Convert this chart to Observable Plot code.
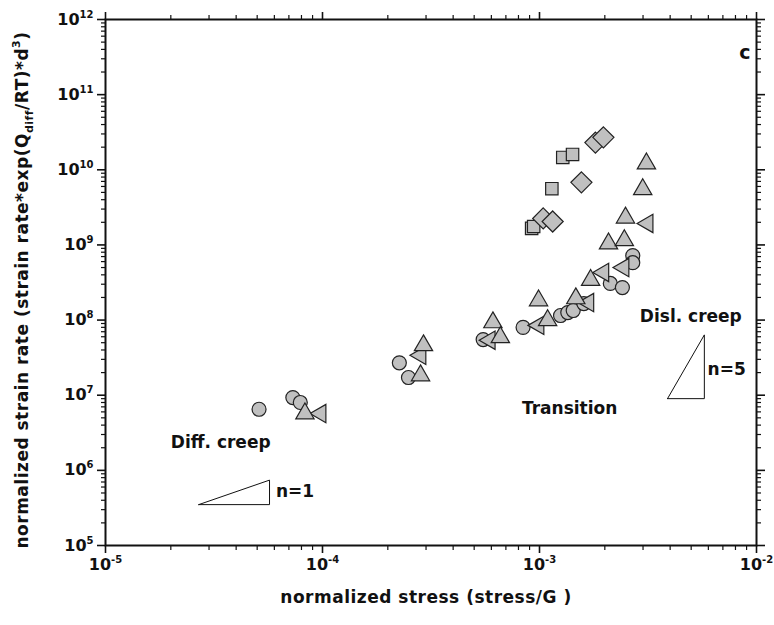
<!DOCTYPE html>
<html>
<head>
<meta charset="utf-8">
<script src="https://cdn.jsdelivr.net/npm/d3@7"></script>
<script src="https://cdn.jsdelivr.net/npm/@observablehq/plot@0.6"></script>
<style>
  body { margin: 0; background: #fff; }
  svg { display: block; }
</style>
</head>
<body>
<div id="chart"></div>
<script>
// Normalized stress (stress/G) vs normalized strain rate, one array per symbol
const circles = [
  [5.1e-5, 6.5e6], [7.3e-5, 9.3e6], [7.9e-5, 8.0e6], [2.26e-4, 2.7e7], [2.49e-4, 1.72e7],
  [5.5e-4, 5.5e7], [8.4e-4, 8.0e7], [1.25e-3, 1.15e8], [1.35e-3, 1.26e8], [1.43e-3, 1.34e8],
  [1.60e-3, 1.66e8], [2.12e-3, 3.07e8], [2.41e-3, 2.71e8], [2.69e-3, 7.2e8], [2.69e-3, 5.8e8]
];
const trianglesUp = [
  [8.3e-5, 5.7e6], [2.92e-4, 4.6e7], [2.83e-4, 1.83e7], [6.1e-4, 9.3e7], [6.6e-4, 5.9e7],
  [9.9e-4, 1.82e8], [1.09e-3, 9.9e7], [1.47e-3, 1.94e8], [1.72e-3, 3.4e8], [2.08e-3, 1.04e9],
  [2.46e-3, 1.15e9], [2.49e-3, 2.3e9], [2.99e-3, 5.5e9], [3.11e-3, 1.21e10]
];
const trianglesLeft = [
  [9.8e-5, 5.7e6], [2.83e-4, 3.4e7], [5.9e-4, 5.4e7], [9.9e-4, 8.5e7], [1.68e-3, 1.71e8],
  [1.97e-3, 4.3e8], [2.44e-3, 5.0e8], [3.15e-3, 1.93e9]
];
const squares = [
  [9.2e-4, 1.66e9], [9.4e-4, 1.76e9], [1.14e-3, 5.6e9], [1.28e-3, 1.46e10], [1.42e-3, 1.60e10]
];
const diamonds = [
  [1.04e-3, 2.25e9], [1.15e-3, 2.05e9], [1.56e-3, 6.8e9], [1.81e-3, 2.3e10], [1.97e-3, 2.7e10]
];

// Slope triangles: base corner, right edge, stress exponent n
const slopeTriangles = [
  {n: 1, x0: 2.69e-5, y0: 3.5e5, x1: 5.7e-5},
  {n: 5, x0: 3.89e-3, y0: 9.0e6, x1: 5.75e-3}
];

// Regime labels
const notes = [
  {text: "Diff. creep", x: 2.0e-5, y: 2.35e6},
  {text: "Transition", x: 8.3e-4, y: 6.6e6},
  {text: "Disl. creep", x: 2.9e-3, y: 1.11e8},
  {text: "n=1", x: 6.1e-5, y: 5.3e5},
  {text: "n=5", x: 5.95e-3, y: 2.2e7}
];

// Axis ticks
const xMajor = [1e-5, 1e-4, 1e-3, 1e-2];
const yMajor = [1e5, 1e6, 1e7, 1e8, 1e9, 1e10, 1e11, 1e12];
const xMinor = [];
for (let e = -5; e < -2; e++) for (let k = 2; k <= 9; k++) xMinor.push(k * 10 ** e);
const yMinor = [];
for (let e = 5; e < 12; e++) for (let k = 2; k <= 9; k++) yMinor.push(k * 10 ** e);

const triVerts = slopeTriangles.flatMap(t => {
  const y1 = t.y0 * Math.pow(t.x1 / t.x0, t.n);
  return [
    {n: t.n, x: t.x0, y: t.y0},
    {n: t.n, x: t.x1, y: y1},
    {n: t.n, x: t.x1, y: t.y0},
    {n: t.n, x: t.x0, y: t.y0}
  ];
});

const FONT = "DejaVu Sans";
const expFmt = d => "10^" + Math.round(Math.log10(d));
const blank = () => "";
const dotStyle = {x: d => d[0], y: d => d[1], fill: "#c0c0c0", stroke: "#222", strokeWidth: 1.2};

const svg = Plot.plot({
  width: 774,
  height: 625,
  marginLeft: 105,
  marginRight: 18,
  marginTop: 19,
  marginBottom: 80,
  style: {fontFamily: FONT, fontWeight: "bold", fontSize: "16px", color: "#111", background: "#fff"},
  x: {type: "log", domain: [1e-5, 1e-2], label: null},
  y: {type: "log", domain: [1e5, 1e12], label: null},
  marks: [
    // bottom / left ticks and labels
    Plot.axisX(xMajor, {anchor: "bottom", tickSize: 8, tickPadding: 5, strokeWidth: 1.6, tickFormat: expFmt, label: null}),
    Plot.axisX(xMinor, {anchor: "bottom", tickSize: 5, strokeWidth: 1.2, tickFormat: blank, label: null}),
    Plot.axisY(yMajor, {anchor: "left", tickSize: 8, tickPadding: 4, strokeWidth: 1.6, tickFormat: expFmt, label: null}),
    Plot.axisY(yMinor, {anchor: "left", tickSize: 4, strokeWidth: 1.2, tickFormat: blank, label: null}),
    // top / right ticks
    Plot.axisX(xMajor, {anchor: "top", tickSize: 8, strokeWidth: 1.6, tickFormat: blank, label: null}),
    Plot.axisX(xMinor, {anchor: "top", tickSize: 5, strokeWidth: 1.2, tickFormat: blank, label: null}),
    Plot.axisY(yMajor, {anchor: "right", tickSize: 8, strokeWidth: 1.6, tickFormat: blank, label: null}),
    Plot.axisY(yMinor, {anchor: "right", tickSize: 4, strokeWidth: 1.2, tickFormat: blank, label: null}),
    Plot.frame({stroke: "#111", strokeWidth: 2}),
    // slope triangles
    Plot.line(triVerts, {x: "x", y: "y", z: "n", stroke: "#111", strokeWidth: 1}),
    // data
    Plot.dot(circles, {...dotStyle, symbol: "circle", r: 7}),
    Plot.dot(trianglesLeft, {...dotStyle, symbol: "triangle", r: 6.8, rotate: -90}),
    Plot.dot(trianglesUp, {...dotStyle, symbol: "triangle", r: 6.8}),
    Plot.dot(squares, {...dotStyle, symbol: "square", r: 7}),
    Plot.dot(diamonds, {...dotStyle, symbol: "diamond2", r: 9.5}),
    // labels
    Plot.text(notes, {x: "x", y: "y", text: "text", textAnchor: "start", fontSize: 17, fontWeight: "bold", fill: "#111", letterSpacing: "0.5px"}),
    Plot.text(["c"], {frameAnchor: "top-right", dx: -6, dy: 26, fontSize: 19, fontWeight: "bold", fill: "#111"})
  ]
});

// Exponent notation for tick labels
d3.select(svg).selectAll("text").each(function () {
  const m = this.textContent.match(/^10\^(-?\d+)$/);
  if (!m) return;
  const el = d3.select(this);
  el.text(null);
  el.append("tspan").text("10");
  el.append("tspan").attr("dy", "-7px").attr("font-size", "10px").text(m[1]);
});

// Axis titles
const root = d3.select(svg);
root.append("text")
  .attr("x", 426).attr("y", 603)
  .attr("text-anchor", "middle")
  .attr("font-size", 17).attr("font-weight", "bold").attr("fill", "#111")
  .attr("letter-spacing", "0.5px")
  .text("normalized stress (stress/G )");

const yt = root.append("text")
  .attr("transform", "translate(28,290) rotate(-90)")
  .attr("text-anchor", "middle")
  .attr("font-size", 17).attr("font-weight", "bold").attr("fill", "#111")
  .attr("letter-spacing", "0.5px");
yt.append("tspan").text("normalized strain rate (strain rate*exp(Q");
yt.append("tspan").attr("font-size", 11).attr("dy", "5px").text("diff");
yt.append("tspan").attr("dy", "-5px").text("/RT)*d");
yt.append("tspan").attr("font-size", 11).attr("dy", "-8px").text("3");
yt.append("tspan").attr("dy", "8px").text(")");

document.getElementById("chart").appendChild(svg);
</script>
</body>
</html>
